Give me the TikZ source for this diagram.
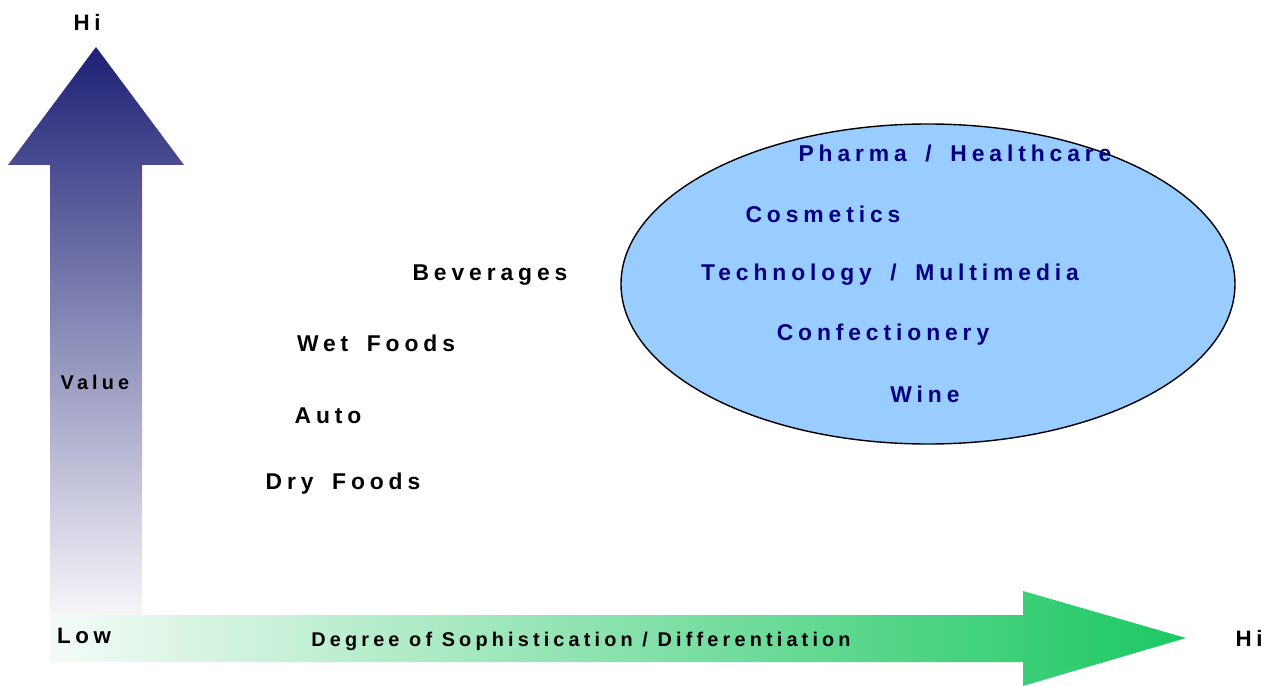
\documentclass[tikz,border=0pt]{standalone}
\usepackage{fontspec}
\setmainfont{Liberation Sans}
\newfontfamily\trackfont[LetterSpace=21]{Liberation Sans}
\newfontfamily\widefont[LetterSpace=21.5, WordSpace=1.65]{Liberation Sans}
\usetikzlibrary{shapes.geometric}

\definecolor{valnavy}{HTML}{1D2075}
\definecolor{valpale}{HTML}{F6F6F9}
\definecolor{sophgreen}{HTML}{1CC862}
\definecolor{sophpale}{HTML}{F4FBF6}
\definecolor{ovalblue}{HTML}{99CCFF}
\definecolor{ovaltext}{HTML}{000080}

\tikzset{
    axislabel/.style={font=\trackfont\bfseries\fontsize{12.7}{14}\selectfont, text=black},
    smalllabel/.style={font=\trackfont\bfseries\fontsize{11.3}{13}\selectfont, text=black},
    marketlabel/.style={font=\widefont\bfseries\fontsize{13}{15}\selectfont, text=black},
    premiumlabel/.style={font=\widefont\bfseries\fontsize{13}{15}\selectfont, text=ovaltext}
}

\begin{document}
\begin{tikzpicture}[x=0.02cm, y=-0.02cm]
    \useasboundingbox (0,0) rectangle (1269,686);

    % Value axis (upward block arrow)
    \shade[top color=valnavy, bottom color=valpale]
        (50,615) -- (50,165) -- (8,165) -- (96,47) -- (184,165) -- (142,165) -- (142,615) -- cycle;

    % Sophistication axis (rightward block arrow)
    \shade[left color=sophpale, right color=sophgreen]
        (50,615) -- (1023,615) -- (1023,591) -- (1186,638) -- (1023,686) -- (1023,662) -- (50,662) -- cycle;

    % Premium segment
    \draw[fill=ovalblue, line width=0.8pt] (928,284) ellipse (307 and 160);

    % Axis labels
    \node[axislabel] (hiValue) at (87,22) {Hi};
    \node[axislabel] (lowEnd) at (84,636) {Low};
    \node[axislabel] (hiSoph) at (1249,638) {Hi};
    \node[smalllabel] (valueLabel) at (95,382) {Value};
    \node[smalllabel] (degreeLabel) at (581,641) {Degree of Sophistication / Differentiation};

    % Commodity markets
    \node[marketlabel] (beverages) at (490,275) {Beverages};
    \node[marketlabel] (wetFoods) at (376,343) {Wet Foods};
    \node[marketlabel] (auto) at (328,416) {Auto};
    \node[marketlabel] (dryFoods) at (343,484) {Dry Foods};

    % Markets inside the oval
    \node[premiumlabel] (pharma) at (955,153) {Pharma / Healthcare};
    \node[premiumlabel] (cosmetics) at (823,214) {Cosmetics};
    \node[premiumlabel] (technology) at (890,275) {Technology / Multimedia};
    \node[premiumlabel] (confectionery) at (883,335) {Confectionery};
    \node[premiumlabel] (wine) at (925,394) {Wine};
\end{tikzpicture}
\end{document}
